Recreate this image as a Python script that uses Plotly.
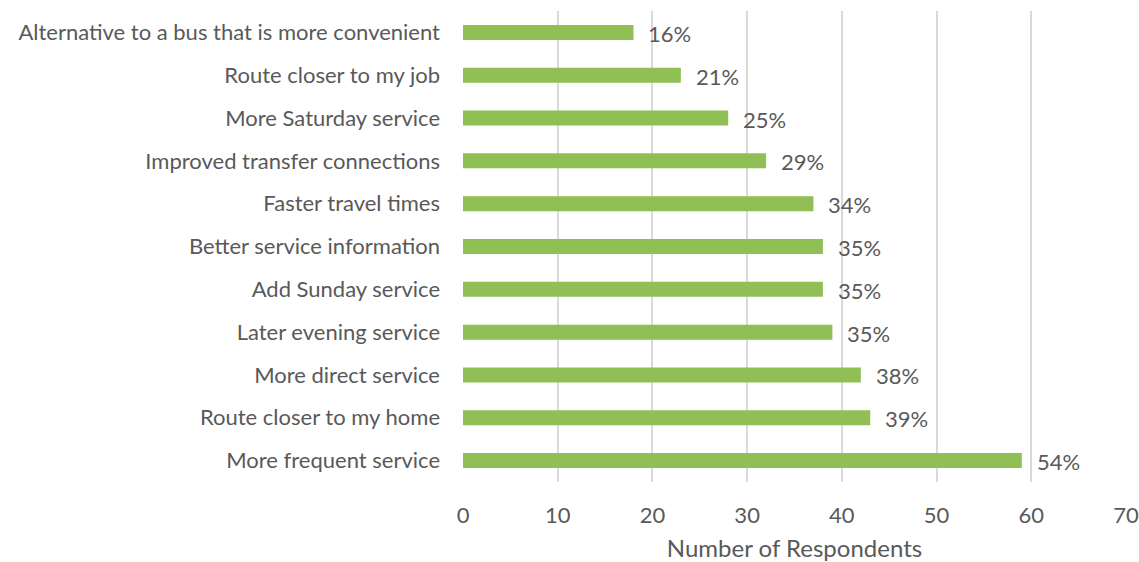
import plotly.graph_objects as go

categories = [
    "Alternative to a bus that is more convenient",
    "Route closer to my job",
    "More Saturday service",
    "Improved transfer connections",
    "Faster travel times",
    "Better service information",
    "Add Sunday service",
    "Later evening service",
    "More direct service",
    "Route closer to my home",
    "More frequent service",
]
respondents = [18, 23, 28, 32, 37, 38, 38, 39, 42, 43, 59]
percent_labels = ["16%", "21%", "25%", "29%", "34%", "35%", "35%", "35%", "38%", "39%", "54%"]
x_ticks = [0, 10, 20, 30, 40, 50, 60, 70]

FONT = "Lato"
GREY = "#595959"

fig = go.Figure()
fig.add_trace(go.Bar(
    x=respondents,
    y=categories,
    orientation="h",
    width=0.35,
    marker=dict(color="#8FBF55", line=dict(width=0)),
))

for v, c, t in zip(respondents, categories, percent_labels):
    fig.add_annotation(x=v, y=c, text=t, showarrow=False, xanchor="left",
                       xshift=13, yshift=-1, font=dict(family=FONT, size=22, color=GREY))

fig.update_layout(
    width=1139, height=562,
    margin=dict(l=463, r=13, t=11, b=80, autoexpand=False),
    paper_bgcolor="white", plot_bgcolor="white",
    showlegend=False,
    font=dict(family=FONT, color=GREY, size=22),
    bargap=0.65,
)
fig.update_yaxes(
    autorange="reversed", automargin=False,
    categoryorder="array", categoryarray=categories,
    showgrid=False, showline=False, zeroline=False,
    ticks="", ticklabelstandoff=22,
    tickfont=dict(family=FONT, size=22, color=GREY),
)
fig.update_xaxes(
    range=[0, 70], tickvals=x_ticks, automargin=False,
    showgrid=True, gridcolor="#D9D9D9", gridwidth=2,
    zeroline=False, showline=False,
    ticks="", ticklabelstandoff=18,
    tickfont=dict(family=FONT, size=22, color=GREY),
    title=dict(text="Number of Respondents", standoff=16,
               font=dict(family=FONT, size=24, color=GREY)),
)

fig.write_html(
    "out.html",
    config={"displayModeBar": False},
    post_script="document.body.style.margin='0';document.body.style.overflow='hidden';",
)
